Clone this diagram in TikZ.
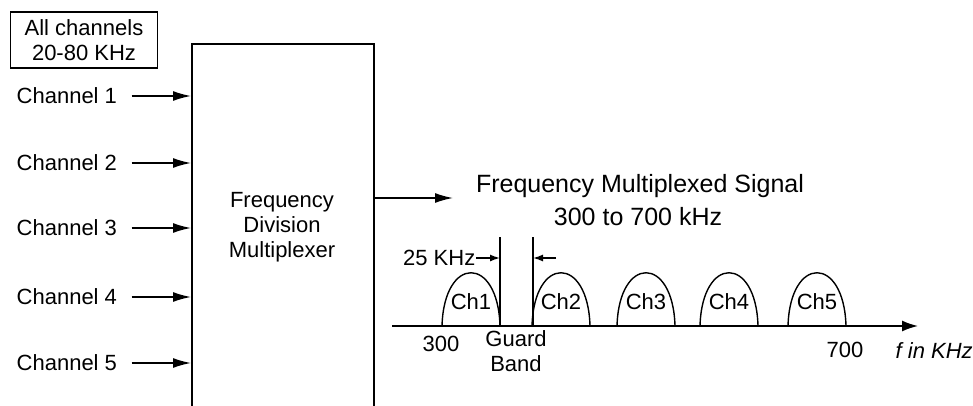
\documentclass[tikz,border=0pt]{standalone}
\usepackage{fontspec}
\setmainfont{Liberation Sans}
\usetikzlibrary{arrows.meta}
\tikzset{
  lbl/.style={inner sep=0pt, font=\fontsize{11}{12.5}\selectfont},
  sig/.style={line width=0.8pt, -{Latex[length=9pt,width=5pt]}},
  gaptip/.style={line width=0.7pt, -{Latex[length=5pt,width=3.5pt]}}
}
\begin{document}
\begin{tikzpicture}[x=0.5pt,y=-0.5pt,line width=0.7pt]
\useasboundingbox (0,0) rectangle (973,406);
% inputs and multiplexer
\node[draw, lbl, align=center, minimum width=73.5pt, minimum height=28pt] (allch) at (84,40) {All channels\\20-80 KHz};
\node[draw, line width=0.9pt, anchor=north west, inner sep=0pt, minimum width=91pt, minimum height=195pt] (mux) at (191,43) {};
\node[lbl, align=center] (fdm) at (282,227) {Frequency\\Division\\Multiplexer};
\foreach \i/\y in {1/96,2/163,3/228,4/297,5/363}{
  \node[lbl, anchor=west] (ch\i) at (16,\y) {Channel \i};
  \draw[sig] ([xshift=7pt]ch\i.east) -- (ch\i.east -| mux.west);
}
\coordinate (out) at (453,198);
\draw[sig] (out -| mux.east) -- (out);
\node[lbl, font=\fontsize{12.5}{14}\selectfont] (title) at (640,186) {Frequency Multiplexed Signal};
\node[lbl, font=\fontsize{12.5}{14}\selectfont] (range) at (638,217) {300 to 700 kHz};
% spectrum
\coordinate (f0) at (392,326);
\coordinate (f1) at (918,326);
\draw[sig, -{Latex[length=8pt,width=5.5pt]}] (f0) -- (f1);
\foreach \i/\x in {1/442,2/532,3/617,4/700,5/788}{
  \draw (\x,326) .. controls (\x+2,255) and (\x+56,255) .. (\x+58,326);
  \node[lbl] (c\i) at (\x+29,302) {Ch\i};
}
\coordinate (g1) at (500,237);
\coordinate (g2) at (533,237);
\draw (g1) -- (g1 |- f0);
\draw (g2) -- (g2 |- f0);
\node[lbl, anchor=east] (gb) at (476,258) {25 KHz};
\draw[gaptip] (gb.east) -- (g1 |- gb);
\coordinate (gr) at (556,258);
\draw[gaptip] (gr) -- (gr -| g2);
\node[lbl] (lo) at (441,344) {300};
\node[lbl, align=center] (guard) at (516,351) {Guard\\Band};
\node[lbl] (hi) at (845,350) {700};
\node[lbl, anchor=west, font={\fontsize{11}{12.5}\selectfont\itshape}] (fax) at (895,351) {f in KHz};
\end{tikzpicture}
\end{document}
